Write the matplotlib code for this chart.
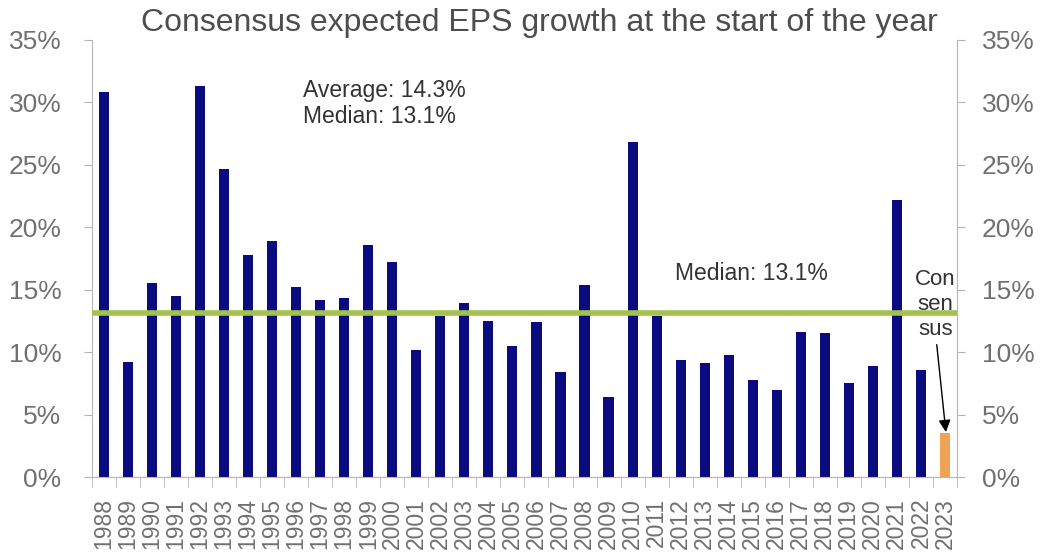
import numpy as np
import matplotlib.pyplot as plt
from matplotlib.ticker import FuncFormatter, MultipleLocator

plt.rcParams['font.family'] = ['Liberation Sans', 'DejaVu Sans']

years = [str(y) for y in range(1988, 2024)]
eps_growth = [30.8, 9.2, 15.5, 14.5, 31.3, 24.7, 17.8, 18.9, 15.2, 14.2,
              14.3, 18.6, 17.2, 10.2, 12.9, 13.9, 12.5, 10.5, 12.4, 8.4,
              15.4, 6.4, 26.8, 12.9, 9.4, 9.1, 9.8, 7.8, 7.0, 11.6,
              11.5, 7.5, 8.9, 22.2, 8.6, 3.5]
median = 13.1
average = 14.3

navy = '#0b0b80'
orange = '#f0a356'
green = '#a3c14d'
spine_col = '#b5b5b5'
tick_col = '#707070'

fig = plt.figure(figsize=(10.51, 5.55), dpi=100)
ax = fig.add_axes([0.0875, 0.1405, 0.823, 0.7875])

x = np.arange(len(years))
colors = [navy] * (len(years) - 1) + [orange]
ax.bar(x, eps_growth, width=0.42, color=colors, zorder=2)
ax.plot([-0.5, len(years) - 0.5], [median, median], color=green, lw=4, zorder=3)

ax.set_xlim(-0.5, len(years) - 0.5)
ax.set_ylim(0, 35)
ax.yaxis.set_major_locator(MultipleLocator(5))
pct = FuncFormatter(lambda v, p: f'{v:.0f}%')
ax.yaxis.set_major_formatter(pct)

ax.set_xticks(x)
ax.set_xticklabels(years, rotation=90, fontsize=16.5, color=tick_col)
ax.set_xticks(np.arange(-0.5, len(years)), minor=True)
ax.tick_params(axis='x', which='major', length=0, pad=15)
ax.tick_params(axis='x', which='minor', length=7, color=spine_col, direction='out')
ax.tick_params(axis='y', labelsize=19, labelcolor=tick_col, length=6,
               color=spine_col, pad=16)
for s in ['top', 'right']:
    ax.spines[s].set_visible(False)
for s in ['left', 'bottom']:
    ax.spines[s].set_color(spine_col)

ax2 = ax.twinx()
ax2.set_ylim(0, 35)
ax2.yaxis.set_major_locator(MultipleLocator(5))
ax2.yaxis.set_major_formatter(pct)
ax2.tick_params(axis='y', labelsize=19, labelcolor=tick_col, length=6,
                color=spine_col, pad=12)
for s in ['top', 'left', 'bottom']:
    ax2.spines[s].set_visible(False)
ax2.spines['right'].set_color(spine_col)

ax.text(8.3, 31.9, f'Average: {average}%\nMedian: {median}%', fontsize=16.5,
        color='#333333', va='top', linespacing=1.2)
ax.text(23.75, 16.3, f'Median: {median}%', fontsize=16.5, color='#333333',
        va='center')
ax.text(34.6, 13.8, 'Con\nsen\nsus', fontsize=16, color='#333333',
        va='center', ha='center', linespacing=1.25, zorder=4)
ax.annotate('', xy=(35.04, 3.6), xytext=(34.66, 10.6),
            arrowprops=dict(arrowstyle='-|>', color='black', lw=1,
                            mutation_scale=18, shrinkA=0, shrinkB=0))

fig.suptitle('Consensus expected EPS growth at the start of the year',
             x=0.513, y=0.985, fontsize=23, color='#4d4d4d')

fig.savefig('out.png', dpi=100)
